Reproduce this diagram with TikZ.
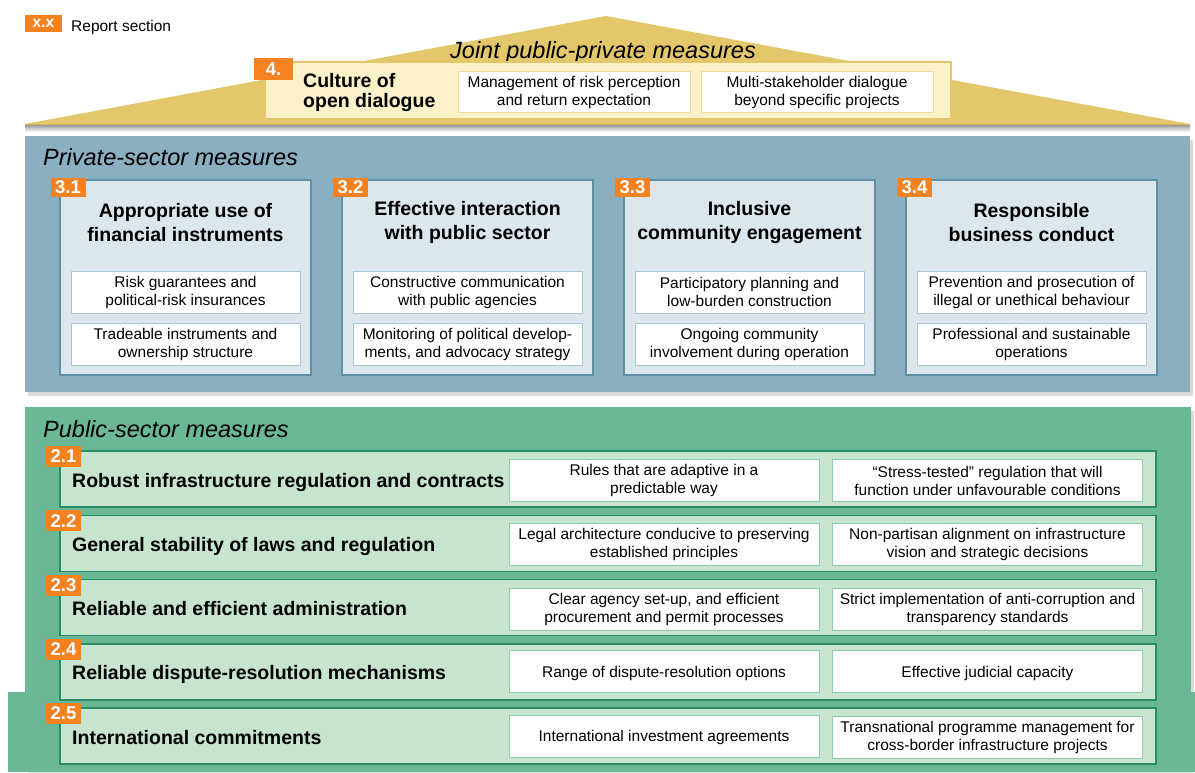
\documentclass[tikz,border=0pt]{standalone}
\usepackage{fontspec}
\setmainfont{Liberation Sans}
\usetikzlibrary{positioning,shapes,shadows}
\definecolor{badgeorange}{HTML}{F58220}
\definecolor{roofgold}{HTML}{E3C76A}
\definecolor{roofline}{HTML}{D6B455}
\definecolor{roofcream}{HTML}{FBF1C9}
\definecolor{roofsubline}{HTML}{F0DC98}
\definecolor{panelblue}{HTML}{8AAFC0}
\definecolor{privfill}{HTML}{DBE6ED}
\definecolor{privline}{HTML}{5F8FA3}
\definecolor{privsubline}{HTML}{A8C8D8}
\definecolor{panelgreen}{HTML}{6BB896}
\definecolor{pubfill}{HTML}{C7E4CE}
\definecolor{publine}{HTML}{2A8C66}
\definecolor{pubsubline}{HTML}{8FCCAA}
\newcommand{\fntbody}{\fontsize{15.5}{18}\selectfont}
\newcommand{\fnttitle}{\fontsize{19.5}{24}\selectfont\bfseries}
\newcommand{\fnthead}{\fontsize{23.5}{28}\selectfont\itshape}
\newcommand{\fntbadge}{\fontsize{18.5}{18.5}\selectfont\bfseries}
\tikzstyle{badge} = [rectangle, fill=badgeorange, text=white, font=\fntbadge, inner sep=0pt, minimum width=35pt, minimum height=19pt]
\tikzstyle{heading} = [anchor=base west, inner sep=0pt, font=\fnthead]
\tikzstyle{panel} = [rectangle, inner sep=0pt, drop shadow={shadow xshift=3pt, shadow yshift=-4pt, opacity=0.3}]
\tikzstyle{privbox} = [rectangle, draw=privline, line width=1.5pt, fill=privfill, minimum width=251pt, minimum height=195pt, inner sep=0pt]
\tikzstyle{boxtitle} = [align=center, inner sep=0pt, font=\fnttitle]
\tikzstyle{privsub} = [rectangle, draw=privsubline, line width=1pt, fill=white, minimum width=229pt, minimum height=42pt, inner sep=0pt, align=center, font=\fntbody]
\tikzstyle{pubrow} = [rectangle, draw=publine, line width=1.5pt, fill=pubfill, minimum width=1096pt, minimum height=56pt, inner sep=0pt]
\tikzstyle{rowtitle} = [anchor=base west, inner sep=0pt, font=\fnttitle]
\tikzstyle{pubsub} = [rectangle, draw=pubsubline, line width=1pt, fill=white, minimum width=310pt, minimum height=42pt, inner sep=0pt, align=center, font=\fntbody]
\tikzstyle{roofsub} = [rectangle, draw=roofsubline, line width=1pt, fill=white, minimum width=232pt, minimum height=41pt, inner sep=0pt, align=center, font=\fntbody]
\tikzstyle{oneline} = [text depth=0pt]

\begin{document}
\begin{tikzpicture}[x=1pt,y=-1pt]
\useasboundingbox (0,0) rectangle (1195,772);

% legend
\node (legbadge) at (43.5,23.5) [badge, minimum width=37pt, minimum height=17pt, font=\fontsize{15.5}{15.5}\selectfont\bfseries] {x.x};
\node (legtext) at (71,31) [anchor=base west, inner sep=0pt, font=\fntbody] {Report section};

% roof
\shade [top color=black!45, bottom color=white] (25,124) rectangle (1190,132);
\fill [roofgold] (25,124) -- (606,16) -- (1190,124) -- cycle;
\draw [roofline, line width=1pt] (25,124) -- (1190,124);
\node (jointhead) at (603,58) [anchor=base, inner sep=0pt, font=\fnthead] {Joint public-private measures};
%
\node (culture) at (608,90.5) [rectangle, draw=roofgold, line width=2pt, fill=roofcream, minimum width=686pt, minimum height=57pt] {};
\node (culturebadge) at (273.5,69) [badge, minimum width=39pt, minimum height=22pt] {4.};
\node (culturetitle) at (303,92) [anchor=west, align=left, inner sep=0pt, font=\fontsize{19.5}{20}\selectfont\bfseries] {Culture of\\open dialogue};
\node (risk) at (574,90.5) [roofsub, yshift=-1.5pt] {Management of risk perception\\and return expectation};
\node (multi) at (817,90.5) [roofsub, yshift=-1.5pt] {Multi-stakeholder dialogue\\beyond specific projects};

% private sector
\node (private) at (607.5,264) [panel, fill=panelblue, minimum width=1165pt, minimum height=256pt] {};
\node (privhead) at (43,165) [heading] {Private-sector measures};
%
\node (fin) at (185.5,277.5) [privbox] {};
\node (finbadge) at (68,187.5) [badge] {3.1};
\node (fintitle) at (185.5,222.5) [boxtitle] {Appropriate use of\\financial instruments};
\node (fin1) at (185.5,292) [privsub] {Risk guarantees and\\political-risk insurances};
\node (fin2) at (185.5,344) [privsub] {Tradeable instruments and\\ownership structure};
%
\node (inter) at (467.5,277.5) [privbox] {};
\node (interbadge) at (350.5,187.5) [badge] {3.2};
\node (intertitle) at (467.5,222.5) [boxtitle] {Effective interaction\\with public sector};
\node (inter1) at (467.5,292) [privsub] {Constructive communication\\with public agencies};
\node (inter2) at (467.5,344) [privsub] {Monitoring of political develop-\\ments, and advocacy strategy};
%
\node (comm) at (749.5,277.5) [privbox] {};
\node (commbadge) at (632.5,187.5) [badge] {3.3};
\node (commtitle) at (749.5,222.5) [boxtitle] {Inclusive\\community engagement};
\node (comm1) at (749.5,292) [privsub] {Participatory planning and\\low-burden construction};
\node (comm2) at (749.5,344) [privsub] {Ongoing community\\involvement during operation};
%
\node (conduct) at (1031.5,277.5) [privbox] {};
\node (conductbadge) at (914.5,187.5) [badge] {3.4};
\node (conducttitle) at (1031.5,222.5) [boxtitle] {Responsible\\business conduct};
\node (conduct1) at (1031.5,292) [privsub] {Prevention and prosecution of\\illegal or unethical behaviour};
\node (conduct2) at (1031.5,344) [privsub] {Professional and sustainable\\operations};

% public sector
\node (public) at (608,589.5) [panel, fill=panelgreen, minimum width=1166pt, minimum height=365pt] {};
\node (publicfoot) at (601.5,732) [rectangle, fill=panelgreen, minimum width=1187pt, minimum height=80pt] {};
\node (pubhead) at (43,437) [heading] {Public-sector measures};
%
\node (reg) at (608,479) [pubrow] {};
\node (regbadge) at (63.5,456.5) [badge, minimum height=21pt] {2.1};
\node (regtitle) at (72,487) [rowtitle] {Robust infrastructure regulation and contracts};
\node (reg1) at (664,479) [pubsub, yshift=-1.5pt] {Rules that are adaptive in a\\predictable way};
\node (reg2) at (987.5,479) [pubsub, yshift=-1.5pt] {“Stress-tested” regulation that will\\function under unfavourable conditions};
%
\node (laws) at (608,543.25) [pubrow] {};
\node (lawsbadge) at (63.5,520.75) [badge, minimum height=21pt] {2.2};
\node (lawstitle) at (72,551.25) [rowtitle] {General stability of laws and regulation};
\node (laws1) at (664,543.25) [pubsub, yshift=-1.5pt] {Legal architecture conducive to preserving\\established principles};
\node (laws2) at (987.5,543.25) [pubsub, yshift=-1.5pt] {Non-partisan alignment on infrastructure\\vision and strategic decisions};
%
\node (admin) at (608,607.5) [pubrow] {};
\node (adminbadge) at (63.5,585) [badge, minimum height=21pt] {2.3};
\node (admintitle) at (72,615.5) [rowtitle] {Reliable and efficient administration};
\node (admin1) at (664,607.5) [pubsub, yshift=-1.5pt] {Clear agency set-up, and efficient\\procurement and permit processes};
\node (admin2) at (987.5,607.5) [pubsub, yshift=-1.5pt] {Strict implementation of anti-corruption and\\transparency standards};
%
\node (dispute) at (608,671.75) [pubrow] {};
\node (disputebadge) at (63.5,649.25) [badge, minimum height=21pt] {2.4};
\node (disputetitle) at (72,679.75) [rowtitle] {Reliable dispute-resolution mechanisms};
\node (dispute1) at (664,671.75) [pubsub, oneline] {Range of dispute-resolution options};
\node (dispute2) at (987.5,671.75) [pubsub, oneline] {Effective judicial capacity};
%
\node (intl) at (608,736) [pubrow] {};
\node (intlbadge) at (63.5,713.5) [badge, minimum height=21pt] {2.5};
\node (intltitle) at (72,744) [rowtitle] {International commitments};
\node (intl1) at (664,736) [pubsub, oneline] {International investment agreements};
\node (intl2) at (987.5,736) [pubsub, yshift=-1.5pt] {Transnational programme management for\\cross-border infrastructure projects};

\end{tikzpicture}
\end{document}
